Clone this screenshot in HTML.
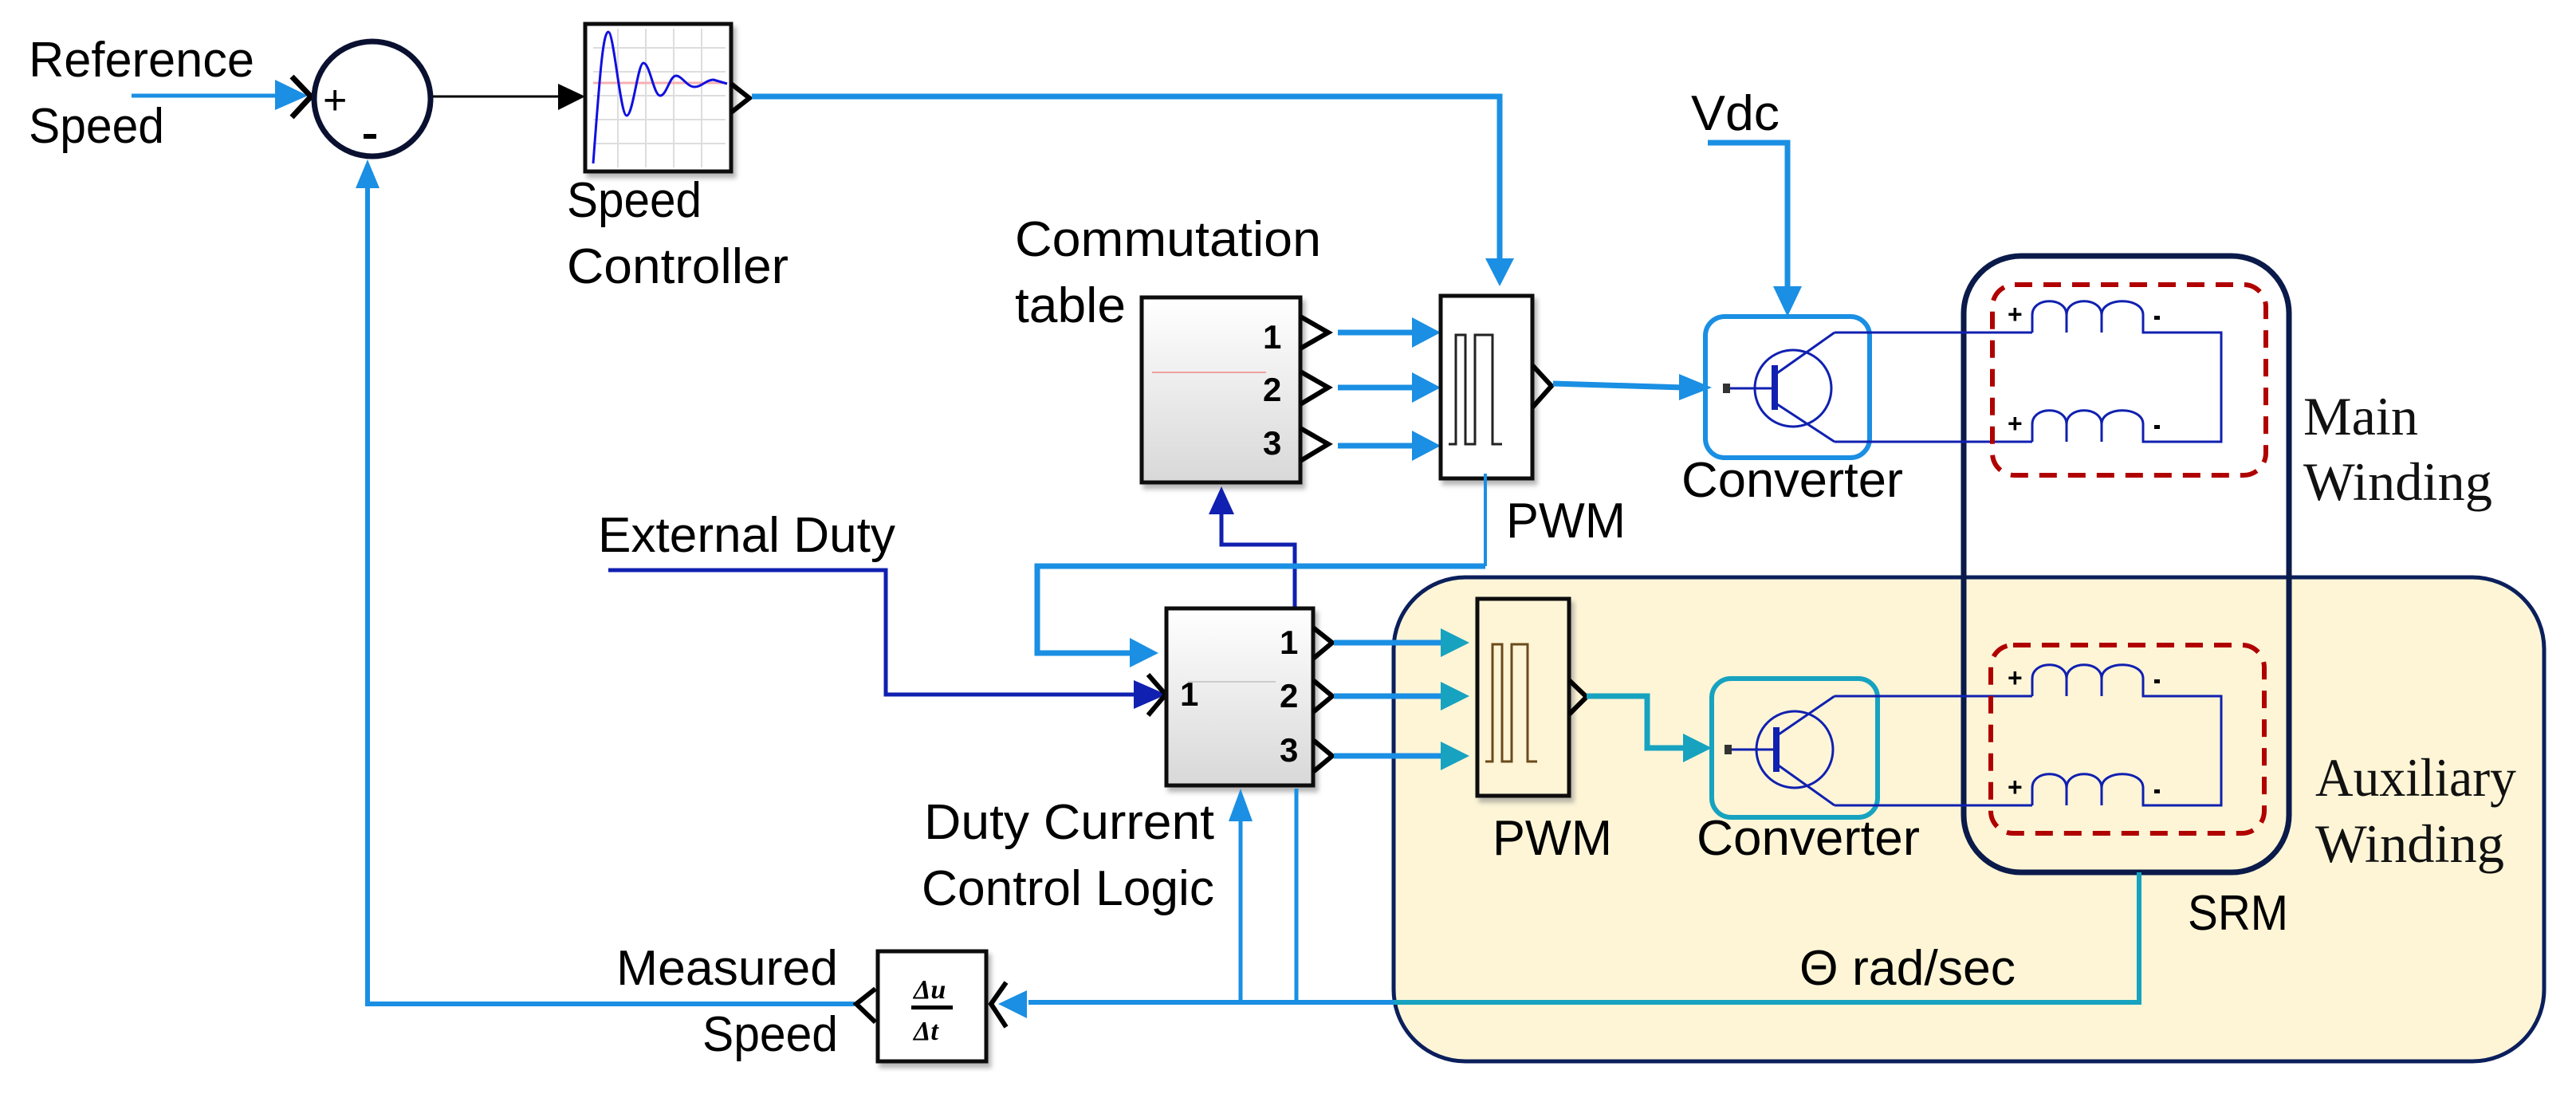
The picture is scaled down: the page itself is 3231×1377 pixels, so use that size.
<!DOCTYPE html>
<html><head><meta charset="utf-8"><style>
html,body{margin:0;padding:0;background:#fff;}
svg{display:block;}
.t{font-family:"Liberation Sans",sans-serif;font-size:62px;fill:#000;}
.s{font-family:"Liberation Serif",serif;font-size:68px;fill:#111;}
.n{font-family:"Liberation Sans",sans-serif;font-size:42px;font-weight:bold;fill:#000;}
</style></head><body>
<svg width="3231" height="1377" viewBox="0 0 3231 1377" xmlns="http://www.w3.org/2000/svg">
<defs>
<linearGradient id="g" x1="0" y1="0" x2="0" y2="1"><stop offset="0" stop-color="#fff"/><stop offset="1" stop-color="#d8d8d8"/></linearGradient>
<filter id="sh"><feDropShadow dx="4" dy="6" stdDeviation="3" flood-color="#888" flood-opacity="0.6"/></filter>
</defs>

<!-- yellow auxiliary region -->
<rect x="1748" y="724" width="1443" height="607" rx="90" ry="90" fill="#fdf5d6" stroke="#0b1f5c" stroke-width="5"/>

<!-- SRM box -->
<rect x="2463" y="321" width="408" height="773" rx="72" ry="72" fill="none" stroke="#0a1a4a" stroke-width="7"/>

<!-- Labels -->
<text class="t" x="36" y="96" textLength="283" lengthAdjust="spacingAndGlyphs">Reference</text>
<text class="t" x="36" y="179" textLength="170" lengthAdjust="spacingAndGlyphs">Speed</text>
<text class="t" x="711" y="272" textLength="169" lengthAdjust="spacingAndGlyphs">Speed</text>
<text class="t" x="711" y="355" textLength="278" lengthAdjust="spacingAndGlyphs">Controller</text>
<text class="t" x="1273" y="321" textLength="384" lengthAdjust="spacingAndGlyphs">Commutation</text>
<text class="t" x="1273" y="404" textLength="139" lengthAdjust="spacingAndGlyphs">table</text>
<text class="t" x="750" y="692" textLength="373" lengthAdjust="spacingAndGlyphs">External Duty</text>
<text class="t" x="1159" y="1052" textLength="364" lengthAdjust="spacingAndGlyphs">Duty Current</text>
<text class="t" x="1156" y="1135" textLength="367" lengthAdjust="spacingAndGlyphs">Control Logic</text>
<text class="t" x="773" y="1235" textLength="278" lengthAdjust="spacingAndGlyphs">Measured</text>
<text class="t" x="881" y="1318" textLength="170" lengthAdjust="spacingAndGlyphs">Speed</text>
<text class="t" x="2121" y="163" textLength="111" lengthAdjust="spacingAndGlyphs">Vdc</text>
<text class="t" x="1889" y="674" textLength="150" lengthAdjust="spacingAndGlyphs">PWM</text>
<text class="t" x="2109" y="623" textLength="278" lengthAdjust="spacingAndGlyphs">Converter</text>
<text class="t" x="1872" y="1072" textLength="150" lengthAdjust="spacingAndGlyphs">PWM</text>
<text class="t" x="2128" y="1072" textLength="280" lengthAdjust="spacingAndGlyphs">Converter</text>
<text class="t" x="2744" y="1166" textLength="126" lengthAdjust="spacingAndGlyphs">SRM</text>
<text class="t" x="2257" y="1235" textLength="271" lengthAdjust="spacingAndGlyphs">Θ rad/sec</text>
<text class="s" x="2889" y="545" textLength="144" lengthAdjust="spacingAndGlyphs">Main</text>
<text class="s" x="2889" y="627" textLength="237" lengthAdjust="spacingAndGlyphs">Winding</text>
<text class="s" x="2904" y="998" textLength="252" lengthAdjust="spacingAndGlyphs">Auxiliary</text>
<text class="s" x="2904" y="1081" textLength="237" lengthAdjust="spacingAndGlyphs">Winding</text>

<!-- Reference input -->
<line x1="165" y1="120" x2="350" y2="120" stroke="#1a8fe3" stroke-width="5"/>
<polygon points="345,100 386,120 345,138" fill="#1a8fe3"/>
<polyline points="366,96 390,121 366,147" fill="none" stroke="#000" stroke-width="7"/>
<!-- Sum -->
<ellipse cx="467" cy="124" rx="73" ry="72" fill="#fff" stroke="#0a1030" stroke-width="7"/>
<text x="405" y="143" font-family="Liberation Sans,sans-serif" font-size="52" fill="#000">+</text>
<rect x="456" y="168" width="16" height="6" fill="#000"/>
<line x1="543" y1="121" x2="705" y2="121" stroke="#000" stroke-width="3"/>
<polygon points="700,105 734,121 700,138" fill="#000"/>

<!-- Speed controller -->
<rect x="734" y="30" width="183" height="185" fill="#fff" stroke="#111" stroke-width="5" filter="url(#sh)"/>
<g stroke="#ddd" stroke-width="2">
<line x1="744" y1="60" x2="910" y2="60"/><line x1="744" y1="90" x2="910" y2="90"/><line x1="744" y1="120" x2="910" y2="120"/><line x1="744" y1="150" x2="910" y2="150"/><line x1="744" y1="180" x2="910" y2="180"/>
<line x1="775" y1="36" x2="775" y2="210"/><line x1="810" y1="36" x2="810" y2="210"/><line x1="845" y1="36" x2="845" y2="210"/><line x1="880" y1="36" x2="880" y2="210"/>
</g>
<line x1="744" y1="104" x2="910" y2="104" stroke="#f6b0b0" stroke-width="3"/>
<path d="M744,205 C752,100 756,40 763,40 C770,40 778,145 786,145 C794,145 800,79 807,79 C815,79 820,120 828,120 C836,120 840,95 848,95 C855,95 862,109 871,109 C880,109 886,100 895,100 L912,105" fill="none" stroke="#1010e0" stroke-width="3"/>
<polyline points="917,105 940,123 917,141" fill="none" stroke="#000" stroke-width="6"/>

<!-- speed ctrl to PWM -->
<polyline points="943,121 1881,121 1881,330" fill="none" stroke="#1a8fe3" stroke-width="7"/>
<polygon points="1863,324 1899,324 1881,359" fill="#1a8fe3"/>

<!-- feedback -->
<polyline points="1072,1259 461,1259 461,228" fill="none" stroke="#1a8fe3" stroke-width="6"/>
<polygon points="446,236 476,236 461,200" fill="#1a8fe3"/>

<!-- Commutation table -->
<rect x="1432" y="373" width="199" height="232" fill="url(#g)" stroke="#111" stroke-width="5" filter="url(#sh)"/>
<line x1="1445" y1="467" x2="1588" y2="467" stroke="#f0a0a0" stroke-width="2"/>
<text class="n" x="1584" y="437">1</text><text class="n" x="1584" y="503">2</text><text class="n" x="1584" y="570">3</text>
<g fill="none" stroke="#000" stroke-width="6">
<polyline points="1631,397 1666,417 1631,437"/><polyline points="1631,466 1666,486 1631,507"/><polyline points="1631,537 1666,557 1631,578"/>
</g>
<g stroke="#1a8fe3" stroke-width="7">
<line x1="1678" y1="417" x2="1780" y2="417"/><line x1="1678" y1="486" x2="1780" y2="486"/><line x1="1678" y1="559" x2="1780" y2="559"/>
</g>
<g fill="#1a8fe3">
<polygon points="1771,398 1807,417 1771,436"/><polygon points="1771,467 1807,486 1771,505"/><polygon points="1771,540 1807,559 1771,578"/>
</g>

<!-- PWM main -->
<rect x="1807" y="371" width="115" height="229" fill="#fff" stroke="#111" stroke-width="5" filter="url(#sh)"/>
<polyline points="1817,557 1826,557 1826,420 1838,420 1838,557 1850,557 1850,420 1872,420 1872,557 1884,557" fill="none" stroke="#222" stroke-width="3"/>
<polyline points="1922,458 1946,484 1922,511" fill="none" stroke="#000" stroke-width="6"/>
<line x1="1948" y1="481" x2="2112" y2="486" stroke="#1a8fe3" stroke-width="7"/>
<polygon points="2106,469 2147,486 2106,502" fill="#1a8fe3"/>
<line x1="1863" y1="594" x2="1863" y2="710" stroke="#1a8fe3" stroke-width="4"/>

<!-- Vdc -->
<polyline points="2142,179 2242,179 2242,365" fill="none" stroke="#1a8fe3" stroke-width="7"/>
<polygon points="2224,359 2260,359 2242,397" fill="#1a8fe3"/>

<!-- Converter main -->
<rect x="2139" y="397" width="206" height="177" rx="24" fill="none" stroke="#1a8fe3" stroke-width="6"/>
<g stroke="#1020b0" stroke-width="3" fill="none">
<circle cx="2249" cy="487" r="48"/>
<line x1="2168" y1="487" x2="2224" y2="487"/>
<line x1="2301" y1="417" x2="2549" y2="417"/><line x1="2226" y1="470" x2="2301" y2="417"/>
<line x1="2226" y1="505" x2="2301" y2="554"/><line x1="2301" y1="554" x2="2549" y2="554"/>
<path d="M2549,417 L2549,395 C2549,372 2592,372 2592,395 L2592,417 M2592,395 C2592,372 2636,372 2636,395 L2636,417 M2636,395 C2636,372 2688,372 2688,395 L2688,417 L2786,417 L2786,554 L2688,554 L2688,532 C2688,509 2636,509 2636,532 L2636,554 M2636,532 C2636,509 2592,509 2592,532 L2592,554 M2592,532 C2592,509 2549,509 2549,532 L2549,554"/>
</g>
<rect x="2222" y="458" width="8" height="56" fill="#1020b0"/>
<rect x="2161" y="481" width="9" height="12" fill="#333"/>
<text x="2518" y="405" font-family="Liberation Sans,sans-serif" font-size="32" font-weight="bold">+</text>
<text x="2518" y="542" font-family="Liberation Sans,sans-serif" font-size="32" font-weight="bold">+</text>
<rect x="2702" y="396" width="7" height="5" fill="#000"/><rect x="2702" y="533" width="7" height="5" fill="#000"/>
<rect x="2499" y="357" width="343" height="239" rx="28" fill="none" stroke="#b00000" stroke-width="6" stroke-dasharray="22,14"/>

<!-- Commutation up-arrow feed -->
<polyline points="1624,762 1624,683 1532,683 1532,640" fill="none" stroke="#1020b0" stroke-width="5"/>
<polygon points="1516,645 1548,645 1532,610" fill="#1020b0"/>

<!-- cyan loop from PWM to duty block -->
<polyline points="1863,710 1301,710 1301,819 1420,819" fill="none" stroke="#1a8fe3" stroke-width="7"/>
<polygon points="1417,800 1453,819 1417,837" fill="#1a8fe3"/>

<!-- External duty -->
<polyline points="763,715 1111,715 1111,871 1428,871" fill="none" stroke="#1020b0" stroke-width="5"/>
<polygon points="1422,853 1463,871 1422,889" fill="#1020b0"/>
<polyline points="1440,846 1462,871 1440,897" fill="none" stroke="#000" stroke-width="6"/>

<!-- Duty block -->
<rect x="1463" y="763" width="184" height="222" fill="url(#g)" stroke="#111" stroke-width="5" filter="url(#sh)"/>
<line x1="1490" y1="855" x2="1600" y2="855" stroke="#ccc" stroke-width="2"/>
<text class="n" x="1480" y="885" font-weight="normal">1</text>
<text class="n" x="1605" y="820">1</text><text class="n" x="1605" y="887">2</text><text class="n" x="1605" y="955">3</text>
<g fill="none" stroke="#000" stroke-width="6">
<polyline points="1647,787 1671,806 1647,826"/><polyline points="1647,853 1671,873 1647,893"/><polyline points="1647,928 1671,948 1647,968"/>
</g>
<g stroke="#1a8fe3" stroke-width="7">
<line x1="1673" y1="806" x2="1812" y2="806"/><line x1="1673" y1="873" x2="1812" y2="873"/><line x1="1673" y1="948" x2="1812" y2="948"/>
</g>
<g fill="#17a2c0">
<polygon points="1807,788 1843,806 1807,824"/><polygon points="1807,855 1843,873 1807,891"/><polygon points="1807,930 1843,948 1807,966"/>
</g>
<!-- up into duty bottom -->
<line x1="1556" y1="1257" x2="1556" y2="1025" stroke="#1a8fe3" stroke-width="5"/>
<polygon points="1541,1030 1571,1030 1556,989" fill="#1a8fe3"/>
<line x1="1626" y1="989" x2="1626" y2="1257" stroke="#1a8fe3" stroke-width="5"/>

<!-- PWM aux -->
<rect x="1853" y="751" width="115" height="247" fill="#fdf5d6" stroke="#111" stroke-width="5" filter="url(#sh)"/>
<polyline points="1863,955 1872,955 1872,808 1884,808 1884,955 1896,955 1896,808 1916,808 1916,955 1928,955" fill="none" stroke="#6b4a1a" stroke-width="3"/>
<polyline points="1968,853 1990,874 1968,896" fill="none" stroke="#000" stroke-width="6"/>
<polyline points="1990,873 2066,873 2066,938 2115,938" fill="none" stroke="#17a2c0" stroke-width="7"/>
<polygon points="2111,920 2147,938 2111,956" fill="#17a2c0"/>

<!-- Converter aux -->
<rect x="2147" y="851" width="208" height="174" rx="24" fill="none" stroke="#17a2c0" stroke-width="6"/>
<g stroke="#1020b0" stroke-width="3" fill="none">
<circle cx="2251" cy="940" r="48"/>
<line x1="2170" y1="940" x2="2226" y2="940"/>
<line x1="2301" y1="873" x2="2549" y2="873"/><line x1="2228" y1="923" x2="2301" y2="873"/>
<line x1="2228" y1="958" x2="2301" y2="1010"/><line x1="2301" y1="1010" x2="2549" y2="1010"/>
<path d="M2549,873 L2549,851 C2549,828 2592,828 2592,851 L2592,873 M2592,851 C2592,828 2636,828 2636,851 L2636,873 M2636,851 C2636,828 2688,828 2688,851 L2688,873 L2786,873 L2786,1010 L2688,1010 L2688,988 C2688,965 2636,965 2636,988 L2636,1010 M2636,988 C2636,965 2592,965 2592,988 L2592,1010 M2592,988 C2592,965 2549,965 2549,988 L2549,1010"/>
</g>
<rect x="2224" y="912" width="8" height="56" fill="#1020b0"/>
<rect x="2163" y="934" width="9" height="12" fill="#333"/>
<text x="2518" y="861" font-family="Liberation Sans,sans-serif" font-size="32" font-weight="bold">+</text>
<text x="2518" y="998" font-family="Liberation Sans,sans-serif" font-size="32" font-weight="bold">+</text>
<rect x="2702" y="852" width="7" height="5" fill="#000"/><rect x="2702" y="990" width="7" height="5" fill="#000"/>
<rect x="2497" y="809" width="343" height="236" rx="28" fill="none" stroke="#b00000" stroke-width="6" stroke-dasharray="22,14"/>

<!-- theta feedback -->
<polyline points="2683,1094 2683,1257 1290,1257" fill="none" stroke="#17a2c0" stroke-width="6"/>
<line x1="1290" y1="1257" x2="1748" y2="1257" stroke="#1a8fe3" stroke-width="6"/>
<polygon points="1288,1242 1252,1259 1288,1277" fill="#1a8fe3"/>

<!-- derivative -->
<rect x="1101" y="1193" width="136" height="138" fill="#fff" stroke="#111" stroke-width="5" filter="url(#sh)"/>
<text x="1146" y="1252" font-family="Liberation Serif,serif" font-size="34" font-weight="bold" font-style="italic">Δu</text>
<rect x="1143" y="1261" width="52" height="5" fill="#000"/>
<text x="1146" y="1304" font-family="Liberation Serif,serif" font-size="34" font-weight="bold" font-style="italic">Δt</text>
<polyline points="1098,1240 1074,1259 1098,1282" fill="none" stroke="#000" stroke-width="6"/>
<polyline points="1262,1232 1243,1259 1262,1288" fill="none" stroke="#000" stroke-width="6"/>
</svg>
</body></html>
